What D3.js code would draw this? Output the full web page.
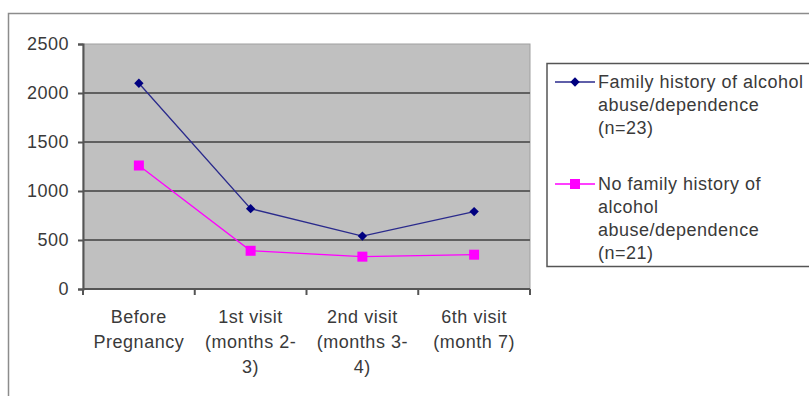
<!DOCTYPE html>
<html>
<head>
<meta charset="utf-8">
<script src="https://cdn.jsdelivr.net/npm/d3@7"></script>
<style>
  html, body { margin: 0; padding: 0; background: #fff; }
  svg { display: block; }
  text { font-family: "Liberation Sans", Arial, sans-serif; fill: #3a3a3a; letter-spacing: 0.5px; }
</style>
</head>
<body>
<svg id="chart" width="809" height="396"></svg>
<script>
// Visit periods along the x axis (each entry is one label, split into lines)
const categories = [
  ["Before", "Pregnancy"],
  ["1st visit", "(months 2-", "3)"],
  ["2nd visit", "(months 3-", "4)"],
  ["6th visit", "(month 7)"]
];
const yTicks = [0, 500, 1000, 1500, 2000, 2500];

const familyHistory = [2100, 820, 540, 790];
const noFamilyHistory = [1260, 390, 330, 350];

const seriesNames = [
  ["Family history of alcohol", "abuse/dependence", "(n=23)"],
  ["No family history of", "alcohol", "abuse/dependence", "(n=21)"]
];

const svg = d3.select("#chart");
const plot = { left: 83, right: 530, top: 44, bottom: 289 };

// Outer chart frame
svg.append("path")
  .attr("d", "M8.5,400 V13.5 H815")
  .attr("fill", "none").attr("stroke", "#8c8c8c").attr("stroke-width", 1.5);

const x = d3.scaleBand()
  .domain(d3.range(categories.length))
  .range([plot.left, plot.right])
  .padding(0);
const y = d3.scaleLinear().domain([0, 2500]).range([plot.bottom, plot.top]);

// Plot area background
svg.append("rect")
  .attr("x", plot.left).attr("y", plot.top)
  .attr("width", plot.right - plot.left).attr("height", plot.bottom - plot.top)
  .attr("fill", "#c0c0c0")
  .attr("stroke", "#a0a0a0").attr("stroke-width", 1);

// Horizontal gridlines
svg.append("g").selectAll("line")
  .data(yTicks.filter(d => d > 0 && d < 2500))
  .join("line")
  .attr("x1", plot.left).attr("x2", plot.right)
  .attr("y1", d => y(d)).attr("y2", d => y(d))
  .attr("stroke", "#606060").attr("stroke-width", 2);

// Y axis
const yAxis = svg.append("g")
  .attr("transform", `translate(${plot.left},0)`)
  .call(d3.axisLeft(y).tickValues(yTicks).tickSize(5).tickPadding(9).tickFormat(d3.format("d")));
yAxis.select(".domain").attr("stroke", "#555").attr("stroke-width", 2);
yAxis.selectAll(".tick line").attr("stroke", "#555").attr("stroke-width", 2);
yAxis.selectAll(".tick text")
  .style("font-family", '"Liberation Sans", Arial, sans-serif')
  .style("letter-spacing", "0.5px")
  .attr("font-size", 18).attr("fill", "#3a3a3a");

// X axis: tick marks sit on category boundaries
const boundaries = d3.range(categories.length + 1).map(i =>
  i < categories.length ? x(i) : x(categories.length - 1) + x.bandwidth());
svg.append("line")
  .attr("x1", plot.left).attr("x2", plot.right)
  .attr("y1", plot.bottom).attr("y2", plot.bottom)
  .attr("stroke", "#555").attr("stroke-width", 2);
svg.append("g").selectAll("line")
  .data(boundaries)
  .join("line")
  .attr("x1", d => d).attr("x2", d => d)
  .attr("y1", plot.bottom).attr("y2", plot.bottom + 6)
  .attr("stroke", "#555").attr("stroke-width", 2);

// Category labels
const xLabels = svg.append("g").selectAll("text")
  .data(categories)
  .join("text")
  .attr("text-anchor", "middle")
  .attr("font-size", 18)
  .attr("x", (d, i) => x(i) + x.bandwidth() / 2)
  .attr("y", 323);
xLabels.selectAll("tspan")
  .data((d, i) => d.map(t => ({ t, i })))
  .join("tspan")
  .attr("x", d => x(d.i) + x.bandwidth() / 2)
  .attr("dy", (d, j) => j === 0 ? 0 : 25)
  .text(d => d.t);

const cx = i => x(i) + x.bandwidth() / 2;
const line = d3.line().x((d, i) => cx(i)).y(d => y(d));
const diamond = d3.symbol(d3.symbolSquare, 44);

// Family history series (navy, diamonds)
svg.append("path").datum(familyHistory)
  .attr("d", line).attr("fill", "none")
  .attr("stroke", "#2a2a8c").attr("stroke-width", 1.3);
svg.append("g").selectAll("path")
  .data(familyHistory)
  .join("path")
  .attr("d", diamond)
  .attr("transform", (d, i) => `translate(${cx(i)},${y(d)}) rotate(45)`)
  .attr("fill", "#000080");

// No family history series (magenta, squares)
svg.append("path").datum(noFamilyHistory)
  .attr("d", line).attr("fill", "none")
  .attr("stroke", "#ff00ff").attr("stroke-width", 1.3);
svg.append("g").selectAll("rect")
  .data(noFamilyHistory)
  .join("rect")
  .attr("x", (d, i) => cx(i) - 5).attr("y", d => y(d) - 5)
  .attr("width", 10).attr("height", 10)
  .attr("fill", "#ff00ff");

// Legend
const legend = svg.append("g");
legend.append("rect")
  .attr("x", 547).attr("y", 63.5)
  .attr("width", 300).attr("height", 203)
  .attr("fill", "#fff").attr("stroke", "#555").attr("stroke-width", 1.5);

const legendRows = [
  { y: 82, color: "#2a2a8c", marker: "diamond", fill: "#000080", lines: seriesNames[0] },
  { y: 184, color: "#ff00ff", marker: "square", fill: "#ff00ff", lines: seriesNames[1] }
];
legendRows.forEach(r => {
  legend.append("line")
    .attr("x1", 555).attr("x2", 595).attr("y1", r.y).attr("y2", r.y)
    .attr("stroke", r.color).attr("stroke-width", 1.3);
  if (r.marker === "diamond") {
    legend.append("path")
      .attr("d", diamond)
      .attr("transform", `translate(575,${r.y}) rotate(45)`)
      .attr("fill", r.fill);
  } else {
    legend.append("rect")
      .attr("x", 570).attr("y", r.y - 5).attr("width", 10).attr("height", 10)
      .attr("fill", r.fill);
  }
  const t = legend.append("text")
    .attr("font-size", 18).attr("x", 598).attr("y", r.y + 6);
  t.selectAll("tspan").data(r.lines).join("tspan")
    .attr("x", 598)
    .attr("dy", (d, j) => j === 0 ? 0 : 23)
    .text(d => d);
});
</script>
</body>
</html>
